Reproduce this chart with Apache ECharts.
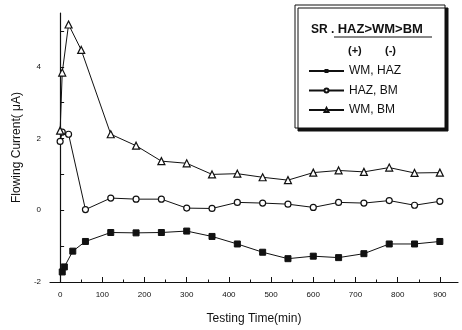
<!DOCTYPE html>
<html>
<head>
<meta charset="utf-8">
<style>
  html, body { margin: 0; padding: 0; background: #fff; }
  #chart { width: 462px; height: 330px; }
</style>
<script src="https://cdn.jsdelivr.net/npm/echarts@6/dist/echarts.min.js"></script>
</head>
<body>
<div id="chart"></div>
<script>
// testing time (min) per series
const timeWmHaz = [5, 10, 30, 60, 120, 180, 240, 300, 360, 420, 480, 540, 600, 660, 720, 780, 840, 900];
const timeHazBm = [0, 5, 20, 60, 120, 180, 240, 300, 360, 420, 480, 540, 600, 660, 720, 780, 840, 900];
const timeWmBm = [0, 5, 20, 50, 120, 180, 240, 300, 360, 420, 480, 540, 600, 660, 720, 780, 840, 900];

// flowing current (uA)
const currentWmHaz = [-1.72, -1.58, -1.14, -0.87, -0.62, -0.63, -0.62, -0.58, -0.73, -0.94, -1.17, -1.35, -1.28, -1.32, -1.21, -0.94, -0.94, -0.87];
const currentHazBm = [1.92, 2.18, 2.12, 0.02, 0.34, 0.31, 0.31, 0.06, 0.05, 0.22, 0.2, 0.17, 0.08, 0.22, 0.2, 0.27, 0.14, 0.25];
const currentWmBm = [2.22, 3.84, 5.18, 4.47, 2.12, 1.8, 1.37, 1.31, 1.0, 1.02, 0.92, 0.84, 1.05, 1.11, 1.07, 1.19, 1.04, 1.05];

const xMajor = [0, 100, 200, 300, 400, 500, 600, 700, 800, 900];
const xMinor = [50, 150, 250, 350, 450, 550, 650, 750, 850];
const yLabels = [-2, 0, 2, 4];
const yTicks = [-1, 0, 1, 2, 3, 4, 5];

const ink = "#111";
const font = "Liberation Sans";

function pairs(xs, ys) {
  return xs.map((x, i) => [x, ys[i]]);
}

const chart = echarts.init(document.getElementById("chart"));

const baseX = {
  type: "value",
  min: -24,
  max: 943,
  position: "bottom",
  splitLine: { show: false },
};

const option = {
  backgroundColor: "#fff",
  animation: false,
  textStyle: { fontFamily: font },
  grid: { left: 50, right: 4, top: 13, bottom: 43 },
  xAxis: [
    Object.assign({}, baseX, {
      name: "Testing Time(min)",
      nameLocation: "middle",
      nameGap: 31,
      nameTextStyle: { fontSize: 12, color: ink, fontFamily: font },
      axisLine: { onZero: false, lineStyle: { color: ink, width: 1.2 } },
      axisTick: { inside: true, length: 5, customValues: xMajor, lineStyle: { color: ink } },
      axisLabel: { customValues: xMajor, fontSize: 8, color: ink, margin: 9, fontFamily: font },
    }),
    Object.assign({}, baseX, {
      axisLine: { show: false, onZero: false },
      axisTick: { inside: true, length: 2.5, customValues: xMinor, lineStyle: { color: ink } },
      axisLabel: { show: false },
    }),
  ],
  yAxis: {
    type: "value",
    min: -2,
    max: 5.5,
    name: "Flowing Current( \u03bcA)",
    nameLocation: "middle",
    nameRotate: 90,
    nameGap: 27,
    nameTextStyle: { fontSize: 12, color: ink, fontFamily: font },
    splitLine: { show: false },
    axisLine: { show: true, lineStyle: { color: ink, width: 1.2 } },
    axisTick: { show: true, inside: true, length: 4, customValues: yTicks, lineStyle: { color: ink } },
    axisLabel: { customValues: yLabels, fontSize: 8, color: ink, margin: 9, fontFamily: font },
  },
  legend: {
    orient: "vertical",
    left: 308,
    top: 65,
    padding: 0,
    itemWidth: 35,
    itemHeight: 5,
    itemGap: 7.5,
    textStyle: { fontSize: 12, color: ink, fontFamily: font },
    data: ["WM, HAZ", "HAZ, BM", "WM, BM"],
  },
  graphic: [
    {
      type: "rect",
      z: 0,
      shape: { x: 295, y: 5, width: 150, height: 123 },
      style: { fill: "#fff", stroke: ink, lineWidth: 1, shadowColor: "#111", shadowOffsetX: 3, shadowOffsetY: 3, shadowBlur: 0 },
    },
    {
      type: "text",
      z: 10,
      left: 311,
      top: 23,
      style: {
        text: "{b|SR .} {n|HAZ>WM>BM}",
        rich: {
          b: { font: "bold 12px " + font, fill: ink },
          n: { font: "bold 13px " + font, fill: ink },
        },
      },
    },
    {
      type: "line",
      z: 10,
      shape: { x1: 334, y1: 37, x2: 432, y2: 37 },
      style: { stroke: ink, lineWidth: 1 },
    },
    {
      type: "text",
      z: 10,
      left: 348,
      top: 45,
      style: { text: "(+)", font: "bold 11px " + font, fill: ink },
    },
    {
      type: "text",
      z: 10,
      left: 385,
      top: 45,
      style: { text: "(-)", font: "bold 11px " + font, fill: ink },
    },
  ],
  series: [
    {
      name: "WM, HAZ",
      type: "line",
      data: pairs(timeWmHaz, currentWmHaz),
      symbol: "rect",
      symbolSize: 6,
      itemStyle: { color: ink, borderColor: ink },
      lineStyle: { color: ink, width: 1 },
      z: 5,
    },
    {
      name: "HAZ, BM",
      type: "line",
      data: pairs(timeHazBm, currentHazBm),
      symbol: "circle",
      symbolSize: 6,
      itemStyle: { color: "#fff", borderColor: ink, borderWidth: 1.2 },
      lineStyle: { color: ink, width: 1 },
      z: 5,
    },
    {
      name: "WM, BM",
      type: "line",
      data: pairs(timeWmBm, currentWmBm),
      symbol: "triangle",
      symbolSize: 7,
      itemStyle: { color: "#fff", borderColor: ink, borderWidth: 1.2 },
      lineStyle: { color: ink, width: 1 },
      z: 5,
    },
  ],
};

chart.setOption(option);
</script>
</body>
</html>
